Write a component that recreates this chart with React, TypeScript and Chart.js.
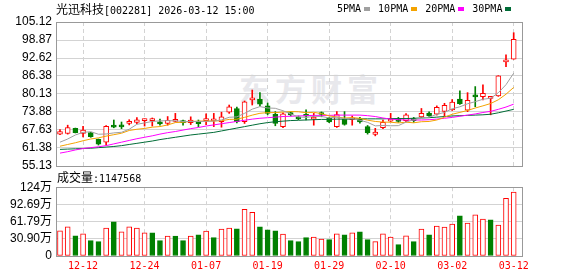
import React, { useEffect, useRef } from 'react';
import { Chart, registerables } from 'chart.js';

Chart.register(...registerables);

// ---------------- data ----------------
const STOCK_NAME = '光迅科技';
const STOCK_CODE = '[002281]';
const STAMP = '2026-03-12 15:00';
const VOLUME_NAME = '成交量';
const VOLUME_LAST = '1147568';
const WATERMARK = '东方财富';
const MA_NAMES = ['5PMA', '10PMA', '20PMA', '30PMA'];

const OPEN = [66.2, 66.4, 68.2, 66.4, 66.7, 64.4, 63.4, 69.3, 68.9, 69.9, 70.3, 70.9, 70.9, 70.5, 69.9, 70.6, 70.8, 70.2, 70.7, 70.9,
  70.8, 70.5, 73.8, 75.1, 70.5, 78.1, 78.4, 76.0, 73.1, 68.8, 73.7, 72.2, 72.8, 71.4, 73.5, 71.7, 68.8, 71.3, 71.2, 71.3,
  68.8, 66.1, 68.4, 70.7, 71.0, 70.9, 71.5, 72.2, 73.5, 73.1, 74.1, 74.6, 78.4, 74.5, 79.4, 79.2, 78.6, 79.5, 91.3, 92.2];
const CLOSE = [67.1, 68.5, 66.7, 67.6, 65.3, 62.7, 68.9, 68.6, 68.7, 70.6, 71.2, 71.3, 71.2, 69.7, 71.0, 70.8, 70.2, 71.1, 69.8, 71.3,
  71.2, 72.2, 75.7, 70.5, 77.4, 78.5, 76.6, 73.4, 69.9, 73.2, 72.9, 71.5, 72.4, 71.8, 73.0, 70.4, 73.0, 69.6, 71.7, 70.4,
  66.7, 66.9, 70.3, 71.2, 70.6, 72.9, 70.9, 73.4, 72.6, 75.5, 76.2, 77.3, 76.8, 77.9, 79.1, 80.4, 79.0, 86.4, 91.9, 99.1];
const HIGH = [67.8, 69.3, 68.3, 68.9, 66.8, 64.5, 69.2, 71.1, 70.4, 71.2, 71.9, 71.5, 71.8, 71.4, 72.3, 73.4, 71.1, 72.2, 71.1, 73.2,
  73.4, 73.8, 76.3, 75.6, 77.7, 81.5, 80.6, 77.0, 74.0, 73.6, 73.9, 72.5, 74.6, 73.4, 73.9, 72.0, 74.0, 74.0, 72.5, 72.0,
  69.2, 68.2, 71.1, 73.4, 72.0, 73.3, 72.0, 75.1, 73.9, 76.0, 76.9, 78.2, 81.2, 80.6, 82.7, 83.3, 79.1, 86.5, 93.7, 101.4];
const LOW = [66.0, 66.2, 66.6, 65.2, 65.1, 62.4, 62.4, 68.4, 68.1, 69.4, 69.8, 69.0, 69.0, 69.3, 69.3, 70.4, 69.3, 69.5, 68.8, 69.5,
  68.8, 68.6, 73.4, 70.1, 69.9, 76.3, 75.9, 72.9, 69.1, 68.4, 72.5, 71.2, 71.1, 69.3, 72.2, 70.2, 68.5, 69.3, 69.3, 70.0,
  66.2, 65.6, 68.1, 70.5, 70.3, 70.4, 70.3, 72.0, 72.3, 72.8, 72.5, 74.4, 76.5, 74.0, 75.7, 78.1, 72.9, 79.3, 89.6, 92.2];

const MA5 = [63.4, 64.5, 65.9, 66.8, 67.04, 66.16, 66.24, 66.62, 66.84, 67.9, 69.6, 70.08, 70.6, 70.8, 70.88, 70.8, 70.58, 70.56, 70.58, 70.64,
  70.72, 71.12, 72.04, 72.18, 73.4, 74.86, 75.74, 75.28, 75.16, 74.32, 73.2, 72.18, 71.98, 72.36, 72.32, 71.82, 72.12, 71.56, 71.54, 71.02,
  70.28, 69.06, 69.2, 69.1, 69.14, 70.38, 71.18, 71.8, 72.08, 73.06, 73.72, 75.0, 75.68, 76.74, 77.46, 78.3, 78.64, 80.56, 83.36, 87.36];
const MA10 = [62.0, 62.6, 63.2, 63.9, 64.5, 64.9, 65.5, 66.0, 66.5, 67.47, 67.88, 68.16, 68.61, 68.82, 69.39, 70.2, 70.33, 70.58, 70.69, 70.76,
  70.76, 70.85, 71.3, 71.38, 72.02, 72.79, 73.43, 73.66, 73.67, 73.86, 74.03, 73.96, 73.63, 73.76, 73.32, 72.51, 72.15, 71.77, 71.95, 71.67,
  71.05, 70.59, 70.38, 70.32, 70.08, 70.33, 70.12, 70.5, 70.59, 71.1, 72.05, 73.09, 73.74, 74.41, 75.26, 76.01, 76.82, 78.12, 80.05, 82.41];
const MA20 = [59.6, 60.1, 60.7, 61.2, 61.5, 61.8, 62.2, 62.8, 63.4, 64.0, 64.6, 65.1, 65.6, 66.2, 66.7, 67.1, 67.6, 68.1, 68.5, 69.0,
  69.4, 69.8, 70.2, 70.6, 71.0, 71.4, 71.7, 71.9, 72.1, 72.3, 72.4, 72.5, 72.6, 72.7, 72.7, 72.7, 72.8, 72.8, 72.8, 72.8,
  72.6, 72.3, 71.8, 71.4, 71.2, 71.1, 71.1, 71.1, 71.2, 71.4, 71.7, 72.0, 72.4, 72.8, 73.2, 73.7, 74.1, 74.8, 75.6, 76.6];
const MA30 = [60.9, 61.0, 61.1, 61.2, 61.3, 61.5, 61.7, 61.9, 62.2, 62.6, 63.0, 63.4, 63.8, 64.3, 64.7, 65.1, 65.5, 65.9, 66.2, 66.5,
  66.8, 67.3, 67.8, 68.3, 68.8, 69.3, 69.8, 70.2, 70.5, 70.7, 70.9, 71.0, 71.1, 71.2, 71.3, 71.3, 71.4, 71.4, 71.4, 71.5,
  71.5, 71.5, 71.5, 71.6, 71.6, 71.6, 71.7, 71.8, 71.9, 72.1, 72.3, 72.5, 72.6, 72.7, 72.8, 72.9, 73.1, 73.6, 74.2, 74.8];

// volume in 万
const VOLUME = [45.3, 52.4, 36.4, 40.0, 27.6, 25.8, 50.1, 61.3, 43.6, 52.4, 50.1, 41.8, 41.8, 27.6, 35.9, 35.9, 27.6, 35.9, 38.2, 44.8,
  32.9, 48.4, 50.1, 48.9, 83.9, 78.6, 52.4, 47.1, 45.3, 39.5, 27.6, 25.8, 32.9, 34.1, 30.6, 29.3, 40.0, 38.2, 41.8, 43.6,
  29.3, 25.8, 40.0, 34.1, 20.4, 36.4, 25.8, 48.4, 38.2, 53.6, 51.9, 57.2, 72.0, 59.0, 73.8, 66.1, 64.9, 55.5, 103.5, 114.7568];
const VOLUME_UP = [1, 1, 0, 1, 0, 0, 1, 0, 1, 1, 1, 1, 0, 0, 1, 0, 0, 1, 0, 1,
  0, 1, 1, 0, 1, 1, 0, 0, 0, 1, 0, 0, 0, 1, 1, 0, 1, 0, 1, 0,
  0, 1, 1, 1, 0, 1, 0, 1, 0, 1, 1, 1, 0, 1, 1, 1, 0, 1, 1, 1];

const DATE_TICK_INDEX = [3, 11, 19, 27, 35, 43, 51, 59];
const DATE_TICK_LABELS = ['12-12', '12-24', '01-07', '01-19', '01-29', '02-10', '03-02', '03-12'];
const PRICE_TICK_LABELS = ['55.13', '61.38', '67.63', '73.88', '80.13', '86.38', '92.62', '98.87', '105.12'];
const VOLUME_TICK_VALUES = [0, 30.895, 61.79, 92.685, 123.58];
const VOLUME_TICK_LABELS = ['0', '30.90万', '61.79万', '92.69万', '124万'];

// ---------------- styles ----------------
const RED = '#ff0000';
const GREEN = '#008000';
const MA_COLORS = ['#a0a0a0', '#f4a300', '#ff00ff', '#006c37'];
const GRID = '#d3d3d3';
const FRAME = '#999999';
const MONO = '"DejaVu Sans Mono", monospace';
const CJK = '"Noto Sans CJK SC", sans-serif';
const NUM_FONT = '"Liberation Sans", "Noto Sans CJK SC", sans-serif';
const X_MIN = -0.52;
const X_MAX = 60.08;

const alignPx = (p: number) => Math.round(p - 0.5) + 0.5;

const framePlugin = {
  id: 'frame',
  afterDraw(chart: any) {
    const { ctx, chartArea } = chart;
    const l = alignPx(chartArea.left);
    const t = alignPx(chartArea.top);
    const r = alignPx(chartArea.right);
    const b = alignPx(chartArea.bottom);
    ctx.save();
    ctx.strokeStyle = FRAME;
    ctx.lineWidth = 1;
    ctx.strokeRect(l, t, r - l, b - t);
    ctx.restore();
  },
};

function xScale(showLabels: boolean, height: number) {
  return {
    type: 'linear' as const,
    min: X_MIN,
    max: X_MAX,
    offset: false,
    afterBuildTicks: (s: any) => {
      s.ticks = DATE_TICK_INDEX.map((v) => ({ value: v }));
    },
    afterFit: (s: any) => {
      s.height = height;
    },
    grid: { offset: false, color: GRID, lineWidth: 1, drawTicks: false },
    border: { display: false, dash: [4, 3] },
    ticks: {
      display: showLabels,
      autoSkip: false,
      maxRotation: 0,
      minRotation: 0,
      padding: 4,
      color: RED,
      font: { family: MONO, size: 10 },
      callback: (_v: any, i: number) => DATE_TICK_LABELS[i],
    },
  };
}

function yScale(min: number, max: number, values: number[], labels: string[]) {
  return {
    type: 'linear' as const,
    min,
    max,
    beginAtZero: false,
    afterBuildTicks: (s: any) => {
      s.ticks = values.map((v) => ({ value: v }));
    },
    afterFit: (s: any) => {
      s.width = 56;
    },
    grid: { color: GRID, lineWidth: 1, drawTicks: false },
    border: { display: false },
    ticks: {
      autoSkip: false,
      padding: 4,
      color: '#000000',
      font: { family: NUM_FONT, size: 12 },
      callback: (_v: any, i: number) => labels[i],
    },
  };
}

export default function App() {
  const priceRef = useRef<HTMLCanvasElement>(null);
  const volRef = useRef<HTMLCanvasElement>(null);

  useEffect(() => {
    const idx = CLOSE.map((_, i) => i);
    const up = idx.map((i) => CLOSE[i] >= OPEN[i]);
    const maSets = [MA5, MA10, MA20, MA30].map((arr, k) => ({
      type: 'line' as const,
      data: arr.map((v, i) => ({ x: i, y: v })),
      borderColor: MA_COLORS[k],
      borderWidth: 1,
      pointRadius: 0,
      tension: 0,
      fill: false,
      order: 0,
    }));
    const priceValues = PRICE_TICK_LABELS.map((t) => parseFloat(t));

    const price = new Chart(priceRef.current as HTMLCanvasElement, {
      type: 'bar',
      data: {
        datasets: [
          ...maSets,
          {
            type: 'bar' as const,
            data: idx.map((i) => ({ x: i, y: [OPEN[i], CLOSE[i]] })) as any,
            backgroundColor: idx.map((i) => (up[i] ? '#ffffff' : GREEN)),
            borderColor: idx.map((i) => (up[i] ? RED : GREEN)),
            borderWidth: 1,
            borderSkipped: false,
            barThickness: 5,
            minBarLength: 2,
            grouped: false,
            order: 1,
          },
          {
            type: 'bar' as const,
            data: idx.map((i) => ({ x: i, y: [LOW[i], HIGH[i]] })) as any,
            backgroundColor: idx.map((i) => (up[i] ? RED : GREEN)),
            borderWidth: 0,
            barThickness: 1,
            grouped: false,
            order: 2,
          },
        ] as any,
      },
      options: {
        responsive: false,
        animation: false,
        devicePixelRatio: 1,
        events: [],
        layout: { padding: { left: 0, right: 56, top: 22, bottom: 14 } },
        plugins: { legend: { display: false }, tooltip: { enabled: false } },
        scales: {
          x: xScale(false, 0) as any,
          y: yScale(priceValues[0], priceValues[priceValues.length - 1], priceValues, PRICE_TICK_LABELS) as any,
        },
      },
      plugins: [framePlugin],
    });

    const vol = new Chart(volRef.current as HTMLCanvasElement, {
      type: 'bar',
      data: {
        datasets: [
          {
            data: idx.map((i) => ({ x: i, y: VOLUME[i] })) as any,
            backgroundColor: idx.map((i) => (VOLUME_UP[i] ? '#ffffff' : GREEN)),
            borderColor: idx.map((i) => (VOLUME_UP[i] ? RED : GREEN)),
            borderWidth: 1,
            borderSkipped: false,
            barThickness: 5,
            grouped: false,
          },
        ],
      },
      options: {
        responsive: false,
        animation: false,
        devicePixelRatio: 1,
        events: [],
        layout: { padding: { left: 0, right: 56, top: 10, bottom: 0 } },
        plugins: { legend: { display: false }, tooltip: { enabled: false } },
        scales: {
          x: xScale(true, 20) as any,
          y: yScale(
            VOLUME_TICK_VALUES[0],
            VOLUME_TICK_VALUES[VOLUME_TICK_VALUES.length - 1],
            VOLUME_TICK_VALUES,
            VOLUME_TICK_LABELS
          ) as any,
        },
      },
      plugins: [framePlugin],
    });

    return () => {
      price.destroy();
      vol.destroy();
    };
  }, []);

  const legendItem = (name: string, k: number) => (
    <span key={name} style={{ display: 'inline-flex', alignItems: 'center', marginRight: 8 }}>
      <span>{name}</span>
      <span
        style={{
          display: 'inline-block',
          width: 6,
          height: 4,
          marginLeft: 3,
          background: MA_COLORS[k],
        }}
      />
    </span>
  );

  return (
    <div
      style={{
        position: 'absolute',
        left: 0,
        top: 0,
        width: 578,
        height: 276,
        background: '#ffffff',
        overflow: 'hidden',
      }}
    >
      <div
        style={{
          position: 'absolute',
          left: 239,
          top: 72,
          fontFamily: CJK,
          fontSize: 31,
          lineHeight: '31px',
          fontWeight: 700,
          letterSpacing: 5,
          color: '#e8e8ec',
          whiteSpace: 'nowrap',
        }}
      >
        {WATERMARK}
      </div>
      <canvas ref={priceRef} width={578} height={180} style={{ position: 'absolute', left: 0, top: 0 }} />
      <canvas ref={volRef} width={578} height={100} style={{ position: 'absolute', left: 0, top: 176 }} />
      <div
        style={{
          position: 'absolute',
          left: 56,
          top: 3,
          lineHeight: '12px',
          whiteSpace: 'pre',
          color: '#000',
        }}
      >
        <span style={{ fontFamily: CJK, fontSize: 12 }}>{STOCK_NAME}</span>
        <span style={{ fontFamily: MONO, fontSize: 10 }}>{STOCK_CODE + ' ' + STAMP}</span>
      </div>
      <div
        style={{
          position: 'absolute',
          left: 337,
          top: 3,
          lineHeight: '12px',
          height: 12,
          display: 'flex',
          alignItems: 'center',
          whiteSpace: 'pre',
          fontFamily: MONO,
          fontSize: 10,
          color: '#000',
        }}
      >
        {MA_NAMES.map((n, k) => legendItem(n, k))}
      </div>
      <div
        style={{
          position: 'absolute',
          left: 57,
          top: 171,
          lineHeight: '12px',
          whiteSpace: 'pre',
          color: '#000',
        }}
      >
        <span style={{ fontFamily: CJK, fontSize: 12 }}>{VOLUME_NAME}</span>
        <span style={{ fontFamily: MONO, fontSize: 10 }}>{':' + VOLUME_LAST}</span>
      </div>
    </div>
  );
}
